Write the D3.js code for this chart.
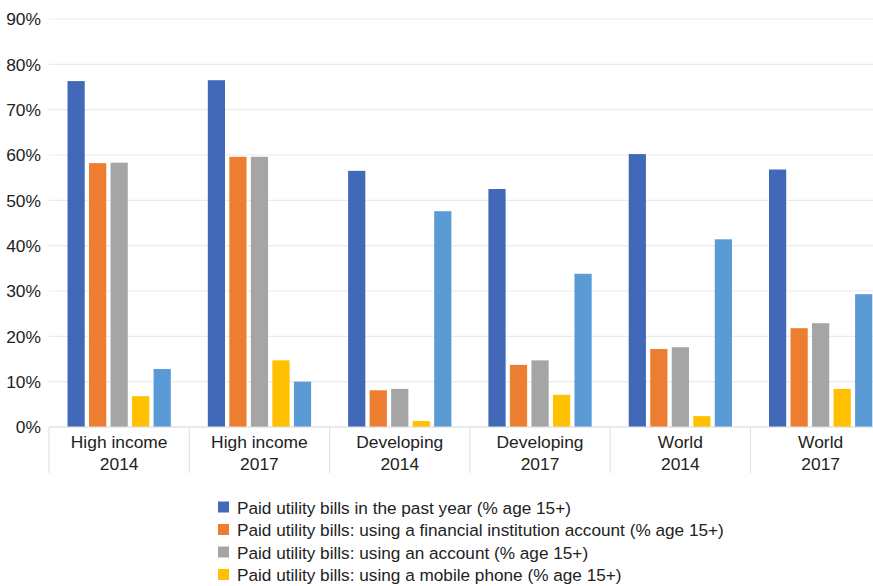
<!DOCTYPE html>
<html>
<head>
<meta charset="utf-8">
<script src="https://cdn.jsdelivr.net/npm/d3@7"></script>
<style>
  html, body { margin: 0; padding: 0; background: #fff; overflow: hidden; }
  svg { display: block; font-family: "Liberation Sans", Arial, sans-serif; }
</style>
</head>
<body>
<svg id="chart" width="873" height="586"></svg>
<script>
const categories = [
  ["High income", "2014"], ["High income", "2017"],
  ["Developing", "2014"], ["Developing", "2017"],
  ["World", "2014"], ["World", "2017"]
];
const seriesNames = [
  "Paid utility bills in the past year (% age 15+)",
  "Paid utility bills: using a financial institution account (% age 15+)",
  "Paid utility bills: using an account (% age 15+)",
  "Paid utility bills: using a mobile phone (% age 15+)",
  "Paid utility bills: using cash only (% age 15+)"
];
const seriesColors = ["#4169B8", "#ED7D31", "#A5A5A5", "#FFC000", "#5B9BD5"];
const paidPastYear   = [76.3, 76.5, 56.5, 52.5, 60.2, 56.8];
const finInstAccount = [58.2, 59.6, 8.1, 13.7, 17.2, 21.8];
const anyAccount     = [58.3, 59.6, 8.4, 14.7, 17.6, 22.9];
const mobilePhone    = [6.8, 14.7, 1.3, 7.1, 2.4, 8.4];
const cashOnly       = [12.8, 10.0, 47.6, 33.8, 41.4, 29.3];
const yTicks = [0, 10, 20, 30, 40, 50, 60, 70, 80, 90];

const seriesValues = [paidPastYear, finInstAccount, anyAccount, mobilePhone, cashOnly];

const svg = d3.select("#chart");
const plotLeft = 49, catStep = 140.3;
const plotRight = plotLeft + catStep * categories.length;
const plotTop = 19, plotBottom = 427;

const catKeys = categories.map(c => c.join(" "));
const x0 = d3.scaleBand().domain(catKeys).range([plotLeft, plotRight]).padding(0);
const x1 = d3.scaleBand().domain(d3.range(seriesNames.length))
  .range([0, x0.bandwidth()]).paddingInner(0.2).paddingOuter(0.86);
const y = d3.scaleLinear().domain([0, 90]).range([plotBottom, plotTop]);

// gridlines
svg.append("g").selectAll("line").data(yTicks).join("line")
  .attr("x1", plotLeft).attr("x2", 873)
  .attr("y1", d => y(d)).attr("y2", d => y(d))
  .attr("stroke", "#ebebeb").attr("stroke-width", 1.2);

// y labels
svg.append("g").selectAll("text").data(yTicks).join("text")
  .attr("x", 41).attr("y", d => y(d)).attr("dy", "0.36em")
  .attr("text-anchor", "end").attr("font-size", 17.4).attr("fill", "#222")
  .text(d => d + "%");

// bars
const groups = svg.append("g").selectAll("g").data(categories).join("g")
  .attr("transform", d => `translate(${x0(d.join(" "))},0)`);
groups.selectAll("rect")
  .data((d, i) => seriesValues.map((vals, s) => ({ s, v: vals[i] })))
  .join("rect")
  .attr("x", d => x1(d.s)).attr("width", x1.bandwidth())
  .attr("y", d => y(d.v)).attr("height", d => y(0) - y(d.v))
  .attr("fill", d => seriesColors[d.s]);

// x axis line and separators
svg.append("line").attr("x1", plotLeft).attr("x2", 873).attr("y1", plotBottom).attr("y2", plotBottom)
  .attr("stroke", "#e0e0e0").attr("stroke-width", 1.2);
const seps = catKeys.map(k => x0(k)).concat([plotRight]);
svg.append("g").selectAll("line").data(seps).join("line")
  .attr("x1", d => d).attr("x2", d => d).attr("y1", plotBottom).attr("y2", 473)
  .attr("stroke", "#e3e3e3").attr("stroke-width", 1.2);

// category labels
const lab = svg.append("g").selectAll("text").data(categories).join("text")
  .attr("text-anchor", "middle").attr("font-size", 17.4).attr("fill", "#222")
  .attr("x", d => x0(d.join(" ")) + x0.bandwidth() / 2);
lab.append("tspan").attr("y", 448).text(d => d[0]);
lab.append("tspan").attr("x", d => x0(d.join(" ")) + x0.bandwidth() / 2).attr("y", 470).text(d => d[1]);

// legend (the fifth entry falls below the visible frame, as in the reference)
const leg = svg.append("g").selectAll("g").data(seriesNames).join("g")
  .attr("transform", (d, i) => `translate(218, ${507.5 + i * 22.5})`);
leg.append("rect").attr("x", 0).attr("y", -6).attr("width", 11).attr("height", 11)
  .attr("fill", (d, i) => seriesColors[i]);
leg.append("text").attr("x", 19).attr("y", 0).attr("dy", "0.36em")
  .attr("font-size", 17.2).attr("fill", "#222").text(d => d);
</script>
</body>
</html>
